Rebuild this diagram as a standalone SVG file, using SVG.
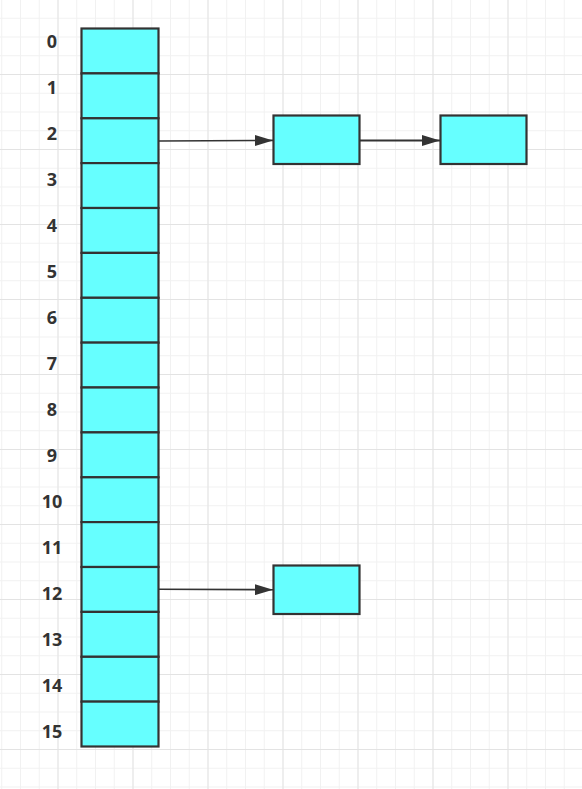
<svg xmlns="http://www.w3.org/2000/svg" width="582" height="789" viewBox="0 0 582 789">
<defs>
<pattern id="minor" patternUnits="userSpaceOnUse" x="-17.5" y="-1" width="18.75" height="18.75">
<path d="M0 0.5H18.75M0.5 0V18.75" fill="none" stroke="#f1f1f1" stroke-width="1"/>
</pattern>
<pattern id="major" patternUnits="userSpaceOnUse" x="-17.5" y="-1" width="75" height="75">
<path d="M0 0.5H75M0.5 0V75" fill="none" stroke="#e3e3e3" stroke-width="1"/>
</pattern>
<marker id="arr" viewBox="0 0 18 11" refX="18" refY="5.5" markerWidth="18" markerHeight="11" markerUnits="userSpaceOnUse" orient="auto">
<path d="M0 0L18 5.5L0 11Z" fill="#333"/>
</marker>
<style>
.cell{fill:#66ffff;stroke:#333;stroke-width:2.2}
.lbl{font-family:"Noto Sans","Open Sans",sans-serif;font-weight:bold;font-size:18px;fill:#333;text-anchor:middle}
.edge{fill:none;stroke:#333;stroke-width:1.6;marker-end:url(#arr)}
</style>
</defs>
<rect width="582" height="789" fill="#fff"/>
<rect width="582" height="789" fill="url(#minor)"/>
<rect width="582" height="789" fill="url(#major)"/>
<g id="array">
<rect class="cell" x="81.5" y="28.5" width="77" height="44.9"/>
<rect class="cell" x="81.5" y="73.4" width="77" height="44.9"/>
<rect class="cell" x="81.5" y="118.3" width="77" height="44.9"/>
<rect class="cell" x="81.5" y="163.1" width="77" height="44.9"/>
<rect class="cell" x="81.5" y="208" width="77" height="44.9"/>
<rect class="cell" x="81.5" y="252.9" width="77" height="44.9"/>
<rect class="cell" x="81.5" y="297.8" width="77" height="44.9"/>
<rect class="cell" x="81.5" y="342.6" width="77" height="44.9"/>
<rect class="cell" x="81.5" y="387.5" width="77" height="44.9"/>
<rect class="cell" x="81.5" y="432.4" width="77" height="44.9"/>
<rect class="cell" x="81.5" y="477.3" width="77" height="44.9"/>
<rect class="cell" x="81.5" y="522.1" width="77" height="44.9"/>
<rect class="cell" x="81.5" y="567" width="77" height="44.9"/>
<rect class="cell" x="81.5" y="611.9" width="77" height="44.9"/>
<rect class="cell" x="81.5" y="656.8" width="77" height="44.9"/>
<rect class="cell" x="81.5" y="701.6" width="77" height="44.9"/>
</g>
<g id="labels">
<text class="lbl" x="52" y="47.5">0</text>
<text class="lbl" x="52" y="93.5">1</text>
<text class="lbl" x="52" y="139.5">2</text>
<text class="lbl" x="52" y="185.5">3</text>
<text class="lbl" x="52" y="231.5">4</text>
<text class="lbl" x="52" y="277.5">5</text>
<text class="lbl" x="52" y="323.5">6</text>
<text class="lbl" x="52" y="369.5">7</text>
<text class="lbl" x="52" y="415.5">8</text>
<text class="lbl" x="52" y="461.5">9</text>
<text class="lbl" x="52" y="507.5">10</text>
<text class="lbl" x="52" y="553.5">11</text>
<text class="lbl" x="52" y="599.5">12</text>
<text class="lbl" x="52" y="645.5">13</text>
<text class="lbl" x="52" y="691.5">14</text>
<text class="lbl" x="52" y="737.5">15</text>
</g>
<g id="nodeA"><rect class="cell" x="273.5" y="115.5" width="86" height="48.5"/></g>
<g id="nodeB"><rect class="cell" x="440.5" y="115.5" width="86" height="48.5"/></g>
<g id="nodeC"><rect class="cell" x="273.5" y="565.5" width="86" height="48.5"/></g>
<g id="connectors">
<path class="edge" d="M159 141L273 140.4"/>
<path class="edge" style="stroke-width:2" d="M360 140.5L440 140.5"/>
<path class="edge" d="M159 589.3L273 589.7"/>
</g>
</svg>
